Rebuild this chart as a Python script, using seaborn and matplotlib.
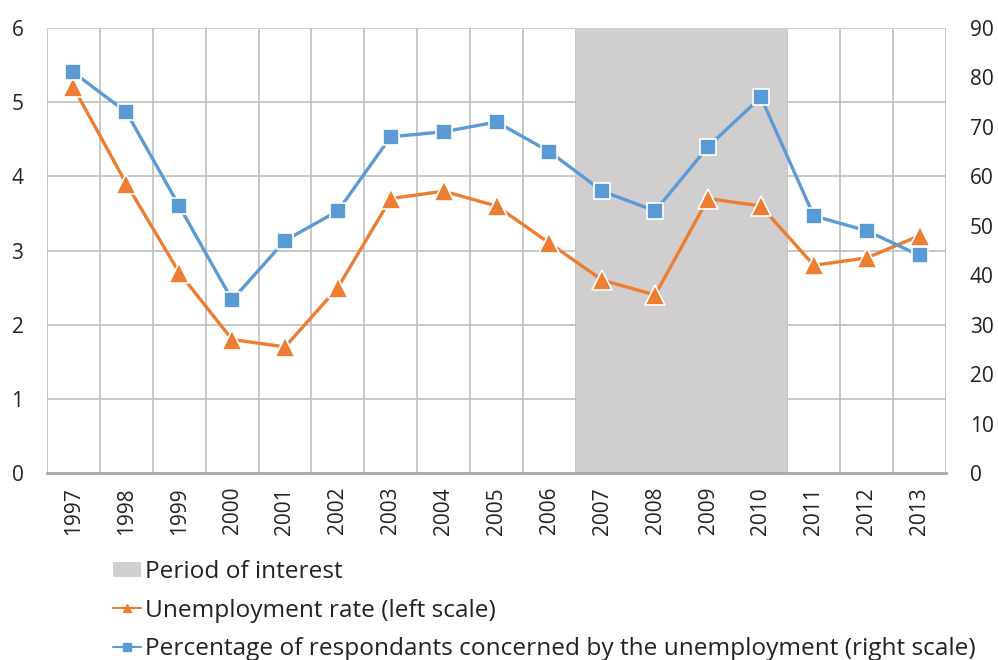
import matplotlib
matplotlib.use("Agg")
import matplotlib.pyplot as plt
import seaborn as sns
import pandas as pd
from matplotlib.lines import Line2D
from matplotlib.patches import Patch

years = [1997, 1998, 1999, 2000, 2001, 2002, 2003, 2004, 2005, 2006, 2007, 2008, 2009, 2010, 2011, 2012, 2013]
unemployment = [5.2, 3.9, 2.7, 1.8, 1.7, 2.5, 3.7, 3.8, 3.6, 3.1, 2.6, 2.4, 3.7, 3.6, 2.8, 2.9, 3.2]
concerned = [81, 73, 54, 35, 47, 53, 68, 69, 71, 65, 57, 53, 66, 76, 52, 49, 44]
period_start, period_end = 2007, 2010
left_ticks = [0, 1, 2, 3, 4, 5, 6]
right_ticks = [0, 10, 20, 30, 40, 50, 60, 70, 80, 90]

label_period = "Period of interest"
label_unemp = "Unemployment rate (left scale)"
label_conc = "Percentage of respondants concerned by the unemployment (right scale)"

sns.set_theme(style="white")
plt.rcParams['font.family'] = ['Open Sans', 'DejaVu Sans']

orange = "#ED7D31"
blue = "#5B9BD5"
grey = "#D0CECE"
gridc = "#BFBFBF"
textc = "#222222"

df = pd.DataFrame({"year": years, "unemp": unemployment, "conc": concerned})

fig = plt.figure(figsize=(9.98, 6.6), dpi=100)
ax = fig.add_axes([0.0471, 0.2833, 0.9008, 0.6743])
ax2 = ax.twinx()

ax.axvspan(period_start - 0.5, period_end + 0.5, color=grey, zorder=0.8, lw=0)

sns.lineplot(data=df, x="year", y="unemp", ax=ax, color=orange, lw=2.4,
             marker="^", markersize=14, markeredgecolor="white", markeredgewidth=1.2, zorder=3)
sns.lineplot(data=df, x="year", y="conc", ax=ax2, color=blue, lw=2.4,
             marker="s", markersize=11.5, markeredgecolor="white", markeredgewidth=1.2, zorder=3)

ax.set_xlim(years[0] - 0.5, years[-1] + 0.5)
ax.set_ylim(0, 6)
ax2.set_ylim(0, 90)
ax.set_yticks(left_ticks)
ax2.set_yticks(right_ticks)
ax.set_xticks(years)
ax.set_xticklabels([str(y) for y in years], rotation=90)

ax.grid(False)
ax2.grid(False)
for v in left_ticks[1:]:
    ax.axhline(v, color=gridc, lw=1.2, zorder=0.6)
for v in [y - 0.5 for y in years] + [years[-1] + 0.5]:
    ax.axvline(v, color=gridc, lw=1.2, zorder=0.6)

for a in (ax, ax2):
    for s in a.spines.values():
        s.set_visible(False)
ax.spines['bottom'].set_visible(True)
ax.spines['bottom'].set_color("#A6A6A6")
ax.spines['bottom'].set_linewidth(2)
ax.spines['bottom'].set_zorder(5)

ax.set_xlabel("")
ax.set_ylabel("")
ax2.set_ylabel("")
ax.tick_params(axis='x', which='both', length=0, labelsize=15, colors=textc, pad=10)
ax.tick_params(axis='y', length=0, labelsize=15, colors=textc, pad=17)
ax2.tick_params(axis='y', length=0, labelsize=15, colors=textc, pad=17)

if ax.get_legend():
    ax.get_legend().remove()

handles = [
    Patch(facecolor=grey, edgecolor='none', label=label_period),
    Line2D([0], [0], color=orange, lw=1.5, marker="^", markersize=6, label=label_unemp),
    Line2D([0], [0], color=blue, lw=1.5, marker="s", markersize=6, label=label_conc),
]
fig.legend(handles=handles, loc="upper left", bbox_to_anchor=(0.113, 0.151),
           frameon=False, fontsize=17.6, handlelength=1.15, handleheight=0.6,
           handletextpad=0.16, labelspacing=0.58, labelcolor=textc,
           borderaxespad=0, borderpad=0)

fig.savefig("out.png", dpi=100)
